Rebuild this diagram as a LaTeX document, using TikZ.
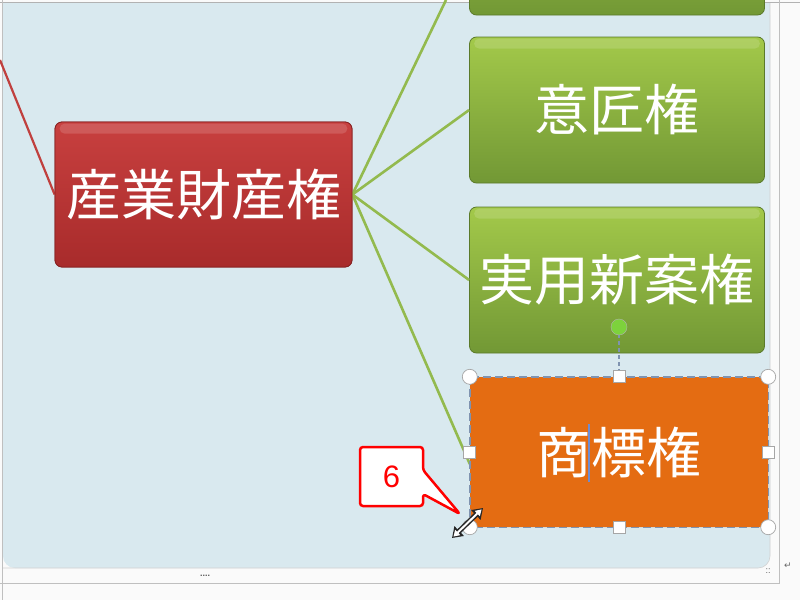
\documentclass[tikz,border=0pt]{standalone}
\usepackage{fontspec}
\newfontfamily\jp{Noto Sans CJK JP}
\setmainfont{Liberation Sans}
\usetikzlibrary{arrows.meta}
\definecolor{bgc}{HTML}{D9E9EF}
\definecolor{gtop}{HTML}{A3C94A}
\definecolor{gbot}{HTML}{729835}
\definecolor{rtop}{HTML}{C8403F}
\definecolor{rbot}{HTML}{A82B2B}
\definecolor{org}{HTML}{E46C12}
\definecolor{gline}{HTML}{93BA4E}
\definecolor{rline}{HTML}{C0403E}
\definecolor{selc}{HTML}{7F93B0}
\definecolor{rotg}{HTML}{7DD23C}
\definecolor{curc}{HTML}{6E8CD2}
\tikzset{
  greenbox/.style={draw=gbot!80!black, line width=0.8pt, rounded corners=7pt, top color=gtop, bottom color=gbot, minimum width=295pt, minimum height=146pt, text=white, font=\jp\fontsize{55}{60}\selectfont, inner sep=0pt},
  redbox/.style={draw=rbot!80!black, line width=0.8pt, rounded corners=7pt, top color=rtop, bottom color=rbot, minimum width=297pt, minimum height=145pt, text=white, font=\jp\fontsize{55}{60}\selectfont, inner sep=0pt},
  orgbox/.style={fill=org, rounded corners=6pt, minimum width=298pt, minimum height=150pt, text=white, font=\jp\fontsize{55}{60}\selectfont, inner sep=0pt},
  conn/.style={gline, line width=2.6pt},
  hcirc/.style={circle, draw=gray!70, fill=white, minimum size=15pt, inner sep=0pt, line width=0.7pt},
  hsq/.style={rectangle, draw=gray!70, fill=white, minimum size=12pt, inner sep=0pt, line width=0.7pt},
  gloss/.style={white, opacity=0.14, rounded corners=5pt},
}
\begin{document}
\begin{tikzpicture}[x=1pt,y=-1pt]
\useasboundingbox (0,0) rectangle (800,600);
% frame
\fill[white!96!gray] (0,0) rectangle (800,600);
\fill[bgc, rounded corners=12pt] (3,3) -- (770,3) -- (770,568) -- (3,568) -- cycle;
\fill[bgc] (3,3) rectangle (770,540);
\draw[gray!60, line width=1pt] (0,2) -- (800,2);
\draw[gray!50, line width=1pt] (2,0) -- (2,600);
\draw[gray!50, line width=1pt] (779,0) -- (779,583) -- (0,583);
\draw[gray!35, line width=0.6pt, rounded corners=12pt] (770,3) -- (770,568) -- (3,568);
\node[text=gray!70!black, font=\bfseries\small] (dots) at (205,576) {....};
\node[text=gray!70!black, font=\small] (dots2) at (768,571) {::};
\node[text=gray!80!black, font={\fontspec{DejaVu Sans}\small}] (ret) at (788,566) {↵};
% nodes
\coordinate (topend) at (446,0);
\node[greenbox] (b0) at (617,-58) {};
\node[greenbox] (b1) at (617,110) {意匠権};
\node[greenbox] (b2) at (617,280) {実用新案権};
\node[orgbox] (b3) at (619,452) {商標権};
\node[redbox] (r) at (203.5,194.5) {産業財産権};
\coordinate (redin) at (0,60);
% connectors
\draw[rline, line width=2.2pt] (redin) -- (r.west);
\draw[conn] (r.east) -- (topend);
\draw[conn] (r.east) -- (b1.west);
\draw[conn] (r.east) -- (b2.west);
\draw[conn] (r.east) -- ([yshift=-12pt]b3.west);
% redraw red box over lines
\node[redbox] (r2) at (203.5,194.5) {産業財産権};
% highlights
\fill[gloss] ([xshift=5pt,yshift=-2pt]b1.north west) rectangle ([xshift=-5pt,yshift=-12pt]b1.north east);
\fill[gloss] ([xshift=5pt,yshift=-2pt]b2.north west) rectangle ([xshift=-5pt,yshift=-12pt]b2.north east);
\fill[gloss] ([xshift=5pt,yshift=-2pt]r.north west) rectangle ([xshift=-5pt,yshift=-12pt]r.north east);
% selection
\draw[selc, dash pattern=on 8pt off 4pt, line width=1.4pt] (b3.north west) rectangle (b3.south east);
\coordinate (rotc) at (619,327);
\draw[selc, dash pattern=on 4pt off 3pt, line width=1.4pt] (rotc) -- (b3.north);
\node[circle, fill=rotg, draw=gray!60, minimum size=16pt, inner sep=0pt] (rot) at (rotc) {};
\node[hcirc] (c1) at (b3.north west) {};
\node[hcirc] (c2) at (b3.north east) {};
\node[hcirc] (c3) at (b3.south west) {};
\node[hcirc] (c4) at (b3.south east) {};
\node[hsq] (s1) at (b3.north) {};
\node[hsq] (s2) at (b3.south) {};
\node[hsq] (s3) at (b3.west) {};
\node[hsq] (s4) at (b3.east) {};
% text cursor
\draw[curc, line width=1.3pt] (589,424) -- (589,482);
% callout
\coordinate (tip) at (460,514);
\draw[red, fill=white, line width=2.5pt, rounded corners=3pt, line join=round] (360,447) -- (423,447) -- (423,470) -- (tip) -- (423,494) -- (423,506) -- (360,506) -- cycle;
\node[text=red, font=\fontsize{31}{34}\selectfont] (six) at (391.5,477) {6};
% resize cursor
\coordinate (ca) at (452,538);
\coordinate (cb) at (483,508);
\draw[gray!30!black, line width=5pt, {Triangle[length=10pt, width=13pt]}-{Triangle[length=10pt, width=13pt]}] (ca) -- (cb);
\draw[white, line width=2pt, shorten <=2pt, shorten >=2pt, {Triangle[length=6pt, width=7pt]}-{Triangle[length=6pt, width=7pt]}] (ca) -- (cb);
\end{tikzpicture}
\end{document}
